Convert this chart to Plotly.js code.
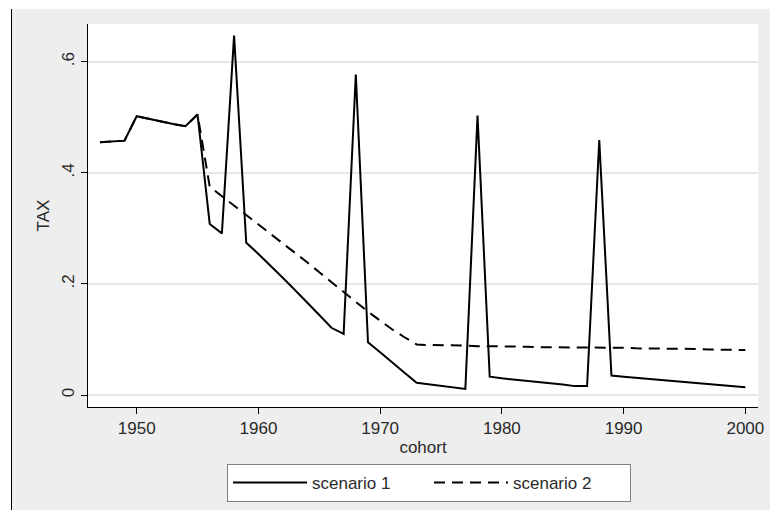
<!DOCTYPE html>
<html>
<head>
<meta charset="utf-8">
<script src="https://cdn.plot.ly/plotly-3.0.1.min.js"></script>
<style>html,body{margin:0;padding:0;background:#fff;}#chart{width:771px;height:510px;}</style>
</head>
<body>
<div id="chart"></div>
<script>
var cohort = [1947,1948,1949,1950,1951,1952,1953,1954,1955,1956,1957,1958,1959,1960,1961,1962,1963,1964,1965,1966,1967,1968,1969,1970,1971,1972,1973,1974,1975,1976,1977,1978,1979,1980,1981,1982,1983,1984,1985,1986,1987,1988,1989,1990,1991,1992,1993,1994,1995,1996,1997,1998,1999,2000];

var scenario1 = [0.455,0.456,0.458,0.502,0.497,0.493,0.488,0.484,0.505,0.308,0.291,0.647,0.274,0.254,0.233,0.211,0.189,0.167,0.144,0.121,0.110,0.577,0.095,0.077,0.058,0.040,0.022,0.019,0.016,0.013,0.011,0.503,0.033,0.030,0.028,0.026,0.023,0.021,0.019,0.016,0.016,0.459,0.035,0.033,0.031,0.029,0.027,0.025,0.024,0.022,0.020,0.018,0.016,0.014];

var scenario2 = [0.455,0.456,0.458,0.502,0.497,0.493,0.488,0.484,0.505,0.375,0.358,0.342,0.325,0.308,0.291,0.274,0.257,0.239,0.221,0.203,0.186,0.168,0.150,0.134,0.118,0.104,0.091,0.090,0.090,0.089,0.089,0.088,0.088,0.087,0.087,0.087,0.086,0.086,0.086,0.086,0.085,0.085,0.085,0.085,0.084,0.084,0.084,0.083,0.083,0.083,0.082,0.082,0.082,0.081];

var seriesNames = ['scenario 1', 'scenario 2'];
var yTickVals = [0, 0.2, 0.4, 0.6];
var yTickText = ['0', '.2', '.4', '.6'];
var xTickVals = [1950, 1960, 1970, 1980, 1990, 2000];
var xTitle = 'cohort';
var yTitle = 'TAX';

var font = 'Liberation Sans, Arial, sans-serif';

var traces = [
  {x: cohort, y: scenario1, name: seriesNames[0], type: 'scatter', mode: 'lines',
   line: {color: '#000', width: 2}},
  {x: cohort, y: scenario2, name: seriesNames[1], type: 'scatter', mode: 'lines',
   line: {color: '#000', width: 2, dash: '11px,7px'}}
];

var L = 88, R = 758, T = 24, B = 407, W = 771, H = 510;
var pw = R - L, ph = B - T;
function px(x){ return (x - L) / pw; }
function py(y){ return (B - y) / ph; }

var layout = {
  width: W, height: H,
  margin: {l: L, r: W - R, t: T, b: H - B, pad: 0, autoexpand: false},
  paper_bgcolor: '#eeeeee',
  plot_bgcolor: '#ffffff',
  font: {family: font, size: 17, color: '#2a2a2a'},
  showlegend: true,
  hovermode: false,
  xaxis: {
    range: [1946.0, 2001.04],
    tickvals: xTickVals,
    ticks: 'outside', ticklen: 6, tickwidth: 1, tickcolor: '#000',
    showline: true, linecolor: '#000', linewidth: 1,
    showgrid: false, zeroline: false, automargin: false,
    tickfont: {size: 17},
    title: {text: xTitle, font: {size: 17}, standoff: 3}
  },
  yaxis: {
    range: [-0.0216, 0.668],
    tickvals: yTickVals, ticktext: yTickText,
    tickangle: -90,
    ticks: 'outside', ticklen: 6, tickwidth: 1, tickcolor: '#000',
    showline: true, linecolor: '#000', linewidth: 1,
    showgrid: true, gridcolor: '#e6e6e6', gridwidth: 2,
    zeroline: false, automargin: false,
    tickfont: {size: 17},
    title: {text: yTitle, font: {size: 17}, standoff: 5}
  },
  legend: {
    orientation: 'h',
    x: px(227), xanchor: 'left',
    y: py(464), yanchor: 'top',
    bgcolor: '#ffffff', bordercolor: '#808080', borderwidth: 1,
    font: {size: 17},
    itemwidth: 74,
    entrywidth: 112, entrywidthmode: 'pixels',
    traceorder: 'normal'
  },
  shapes: [
    {type: 'rect', xref: 'paper', yref: 'paper', x0: px(-5), x1: px(W + 5), y0: py(9), y1: py(-5),
     fillcolor: '#ffffff', line: {width: 0}, layer: 'below'},
    {type: 'rect', xref: 'paper', yref: 'paper', x0: px(-5), x1: px(11), y0: py(H + 5), y1: py(-5),
     fillcolor: '#ffffff', line: {width: 0}, layer: 'below'},
    {type: 'rect', xref: 'paper', yref: 'paper', x0: px(770), x1: px(W + 5), y0: py(H + 5), y1: py(-5),
     fillcolor: '#ffffff', line: {width: 0}, layer: 'below'},
    {type: 'line', xref: 'paper', yref: 'paper', x0: px(11.5), x1: px(11.5), y0: py(H + 5), y1: py(9),
     line: {color: '#000', width: 1}}
  ]
};

Plotly.newPlot('chart', traces, layout, {displayModeBar: false, staticPlot: true});
</script>
</body>
</html>
